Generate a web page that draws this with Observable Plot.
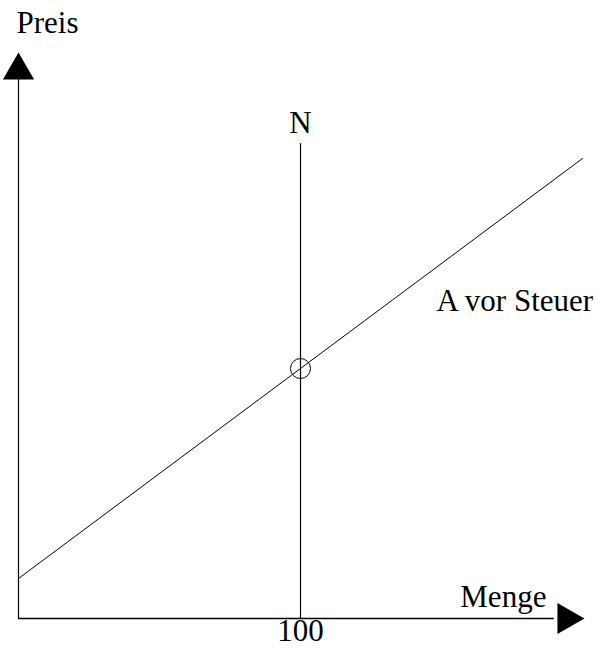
<!DOCTYPE html>
<html>
<head>
<meta charset="utf-8">
<script src="https://cdn.jsdelivr.net/npm/d3@7"></script>
<script src="https://cdn.jsdelivr.net/npm/@observablehq/plot@0.6"></script>
<style>
  html, body { margin: 0; padding: 0; background: #fff; }
</style>
</head>
<body>
<div id="chart"></div>
<script>
// Supply curve "A vor Steuer" (quantity, price)
const supplyQ = [0, 200];
const supplyP = [20, 230];
// Vertical line N at quantity 100
const nQ = [100, 100];
const nP = [0, 237.5];
// Equilibrium marker
const eqQ = [100];
const eqP = [125];
// Axis extents
const xAxisQ = [0, 190];
const yAxisP = [0, 270];
// Axis arrow heads
const arrowQ = [0, 194.3];
const arrowP = [274, 0];
const arrowRot = [0, 90];
// Tick labels
const tickQ = [100];
const tickLabels = ["100"];
// Text labels
const labelText = ["Preis", "Menge", "N", "A vor Steuer"];
const labelQ = [-0.7, 187.2, 100, 148.2];
const labelP = [297.5, 10.5, 247.5, 158.5];
const labelAnchor = ["start", "end", "middle", "start"];

const supply = supplyQ.map((q, i) => ({q, p: supplyP[i]}));
const nLine = nQ.map((q, i) => ({q, p: nP[i]}));
const eq = eqQ.map((q, i) => ({q, p: eqP[i]}));
const arrows = arrowQ.map((q, i) => ({q, p: arrowP[i], r: arrowRot[i]}));
const ticks = tickQ.map((q, i) => ({q, label: tickLabels[i]}));
const labels = labelText.map((t, i) => ({t, q: labelQ[i], p: labelP[i], a: labelAnchor[i]}));

const font = "'Liberation Serif', 'DejaVu Serif', serif";

const chart = Plot.plot({
  width: 599,
  height: 650,
  margin: 0,
  x: {domain: [0, 200], range: [18, 582], axis: null},
  y: {domain: [0, 283], range: [618, 52], axis: null},
  style: {background: "#fff", fontFamily: font},
  marks: [
    // axes
    Plot.ruleY([0], {x1: xAxisQ[0], x2: xAxisQ[1], stroke: "black", strokeWidth: 1.3}),
    Plot.ruleX([0], {y1: yAxisP[0], y2: yAxisP[1], stroke: "black", strokeWidth: 1.2}),
    Plot.dot(arrows, {x: "q", y: "p", symbol: "triangle", r: 11.57, fill: "black", stroke: "none", rotate: "r"}),
    // N line
    Plot.line(nLine, {x: "q", y: "p", stroke: "black", strokeWidth: 1.2}),
    // supply line
    Plot.line(supply, {x: "q", y: "p", stroke: "black", strokeWidth: 1}),
    // equilibrium circle
    Plot.dot(eq, {x: "q", y: "p", r: 10, stroke: "black", strokeWidth: 1, fill: "none"}),
    // tick label
    Plot.text(ticks, {x: "q", y: -6.5, text: "label", fontSize: 31, fill: "black", fontFamily: font}),
    // labels
    ...labels.map(l => Plot.text([l], {x: "q", y: "p", text: "t", textAnchor: l.a, fontSize: 31, fill: "black", fontFamily: font}))
  ]
});
document.getElementById("chart").appendChild(chart);
</script>
</body>
</html>
